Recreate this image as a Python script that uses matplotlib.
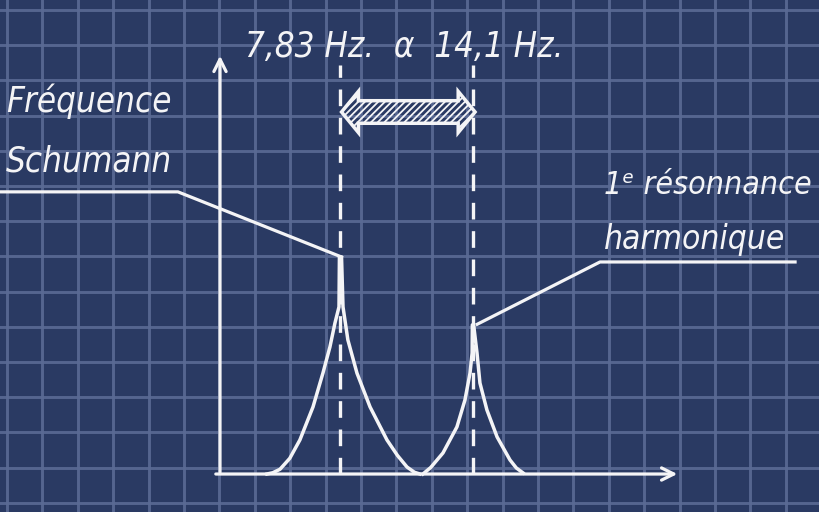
import numpy as np
import matplotlib
matplotlib.use("Agg")
import matplotlib.pyplot as plt
import matplotlib.patches as mpatches

# resonance frequencies (Hz)
freqs = [7.83, 14.1]
freq_label = "7,83 Hz.  α  14,1 Hz."

# peak 1 (Schumann) : offset from centre in Hz, amplitude
peak1_dx = [-3.48, -3.2, -2.86, -2.4, -1.92, -1.30, -0.83, -0.50, -0.26, -0.07, -0.05, 0.0, 0.05,
            0.12, 0.35, 0.78, 1.40, 2.20, 2.7, 3.15, 3.5, 3.76]
peak1_amp = [0.0, 0.06, 0.22, 0.72, 1.57, 3.09, 4.65, 5.85, 6.96, 7.70, 10.0, 10.0, 10.0,
             7.70, 6.18, 4.65, 3.09, 1.57, 0.85, 0.32, 0.08, 0.0]

# peak 2 (1st harmonic)
peak2_dx = [-2.37, -2.0, -1.42, -0.76, -0.38, -0.14, -0.04, -0.03, 0.0, 0.03, 0.19,
            0.33, 0.66, 1.14, 1.75, 2.05, 2.37]
peak2_amp = [0.0, 0.3, 0.97, 2.17, 3.41, 4.65, 5.58, 6.87, 6.87, 6.87, 5.58,
             4.19, 2.95, 1.71, 0.65, 0.28, 0.05]

bg = "#2a3a63"
gridc = "#5a6a94"
ink = "#f4f4f6"
hand = dict(family="DejaVu Sans", style="italic", stretch="condensed", color=ink)

plt.rcParams["hatch.color"] = ink
plt.rcParams["hatch.linewidth"] = 1.3

fig = plt.figure(figsize=(8.2, 5.12), dpi=100, facecolor=bg)

# background paper grid, pixel coordinates
paper = fig.add_axes([0, 0, 1, 1])
paper.set_xlim(0, 820)
paper.set_ylim(512, 0)
paper.set_facecolor(bg)
paper.axis("off")
for gx in np.arange(7, 820, 35.4):
    paper.axvline(gx, color=gridc, lw=2.1, alpha=0.9)
for gy in np.arange(10, 512, 35.2):
    paper.axhline(gy, color=gridc, lw=2.1, alpha=0.9)

# chart in Hz / amplitude units
ax = fig.add_axes([0, 0, 1, 1])
ax.patch.set_alpha(0)
ax.set_xlim(-8.28, 30.52)
ax.set_ylim(-1.75, 21.84)
ax.axis("off")

# axes arrows
ax.annotate("", xy=(2.13, 19.4), xytext=(2.13, -0.05),
            arrowprops=dict(arrowstyle="->", color=ink, lw=2.3, mutation_scale=22))
ax.annotate("", xy=(23.9, 0.0), xytext=(1.8, 0.0),
            arrowprops=dict(arrowstyle="->", color=ink, lw=2.3, mutation_scale=22))

# dashed markers
for f in freqs:
    ax.plot([f, f], [0, 18.85], color=ink, lw=2.4, dashes=(5, 3.5))

# peaks
ax.plot(freqs[0] + np.array(peak1_dx), peak1_amp, color=ink, lw=2.5,
        solid_joinstyle="round")
ax.plot(freqs[1] + np.array(peak2_dx), peak2_amp, color=ink, lw=2.5,
        solid_joinstyle="round")

# hatched double arrow between the two frequencies
yc, hs, hh, hl = 16.68, 0.52, 0.95, 0.8
x0, x1 = freqs[0] + 0.05, freqs[1] + 0.1
verts = [(x0, yc), (x0 + hl, yc + hh), (x0 + hl, yc + hs), (x1 - hl, yc + hs),
         (x1 - hl, yc + hh), (x1, yc), (x1 - hl, yc - hh), (x1 - hl, yc - hs),
         (x0 + hl, yc - hs), (x0 + hl, yc - hh)]
ax.add_patch(mpatches.Polygon(verts, closed=True, facecolor="none",
                              edgecolor=ink, lw=2.5, hatch="/////"))

# leader lines
ax.plot([-8.3, 0.14, freqs[0] + 0.05], [13.0, 13.0, 10.0], color=ink, lw=2.3)
ax.plot([freqs[1] + 0.2, 20.11, 29.34], [6.9, 9.77, 9.77], color=ink, lw=2.3)

# labels
paper.text(245, 47, freq_label, fontsize=25, va="center", ha="left", **hand)
paper.text(6, 101, "Fréquence", fontsize=25, va="center", ha="left", **hand)
paper.text(6, 161, "Schumann", fontsize=25, va="center", ha="left", **hand)
paper.text(604, 186, "1ᵉ résonnance", fontsize=23, va="center", ha="left", **hand)
paper.text(604, 239, "harmonique", fontsize=24, va="center", ha="left", **hand)

fig.savefig("out.png", dpi=100, facecolor=bg)
